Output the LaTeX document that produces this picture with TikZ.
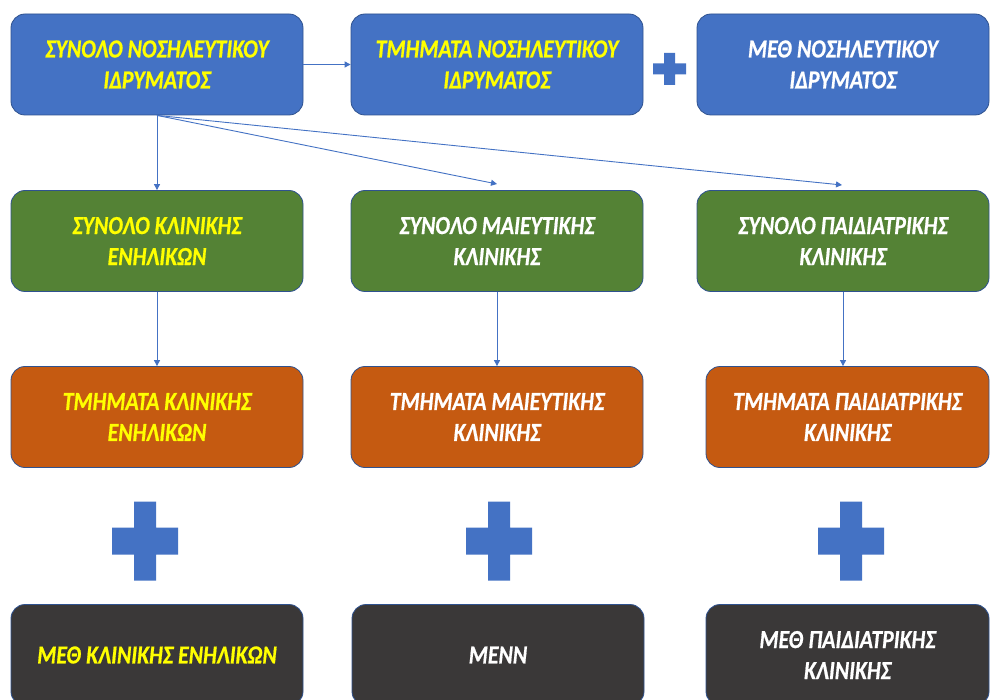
\documentclass[tikz,border=0pt]{standalone}
\usepackage{fontspec}
\setmainfont{Carlito}
\newfontfamily\boxfont[FakeStretch=0.84,FakeBold=0.6]{Carlito}
\usetikzlibrary{arrows.meta}
\definecolor{cblue}{HTML}{4472C4}
\definecolor{cgreen}{HTML}{548235}
\definecolor{corange}{HTML}{C55A11}
\definecolor{cdark}{HTML}{3A3838}
\definecolor{cedge}{HTML}{2F528F}
\definecolor{cyellow}{HTML}{FFFF00}
\begin{document}
\begin{tikzpicture}[x=1pt,y=-1pt,
  box/.style={rectangle, rounded corners=14pt, draw=cedge, line width=0.8pt,
    minimum width=292pt, minimum height=101pt, align=center, inner sep=0pt,
    font=\boxfont\bfseries\itshape\fontsize{26}{31}\selectfont},
  narrow/.style={minimum width=283pt},
  bluebox/.style={box, fill=cblue},
  greenbox/.style={box, fill=cgreen},
  orangebox/.style={box, fill=corange},
  darkbox/.style={box, fill=cdark},
  yel/.style={text=cyellow},
  wht/.style={text=white},
  conn/.style={draw=cblue, line width=0.9pt, -{Triangle[length=6pt,width=6pt]}},
  bigplus/.pic={\fill[cblue] (-11,-39.5) -- (11,-39.5) -- (11,-13.5) -- (33,-13.5) -- (33,13.5) -- (11,13.5) -- (11,39.5) -- (-11,39.5) -- (-11,13.5) -- (-33,13.5) -- (-33,-13.5) -- (-11,-13.5) -- cycle;},
  smallplus/.pic={\fill[cblue] (-5.5,-16) -- (5.5,-16) -- (5.5,-5.5) -- (16.5,-5.5) -- (16.5,5.5) -- (5.5,5.5) -- (5.5,16) -- (-5.5,16) -- (-5.5,5.5) -- (-16.5,5.5) -- (-16.5,-5.5) -- (-5.5,-5.5) -- cycle;}
]
\useasboundingbox (0,0) rectangle (990,700);
\clip (0,0) rectangle (990,700);
\fill[white] (0,0) rectangle (990,700);

% row 1
\node[bluebox, yel] (A) at (157,64.5) {ΣΥΝΟΛΟ ΝΟΣΗΛΕΥΤΙΚΟΥ\\ΙΔΡΥΜΑΤΟΣ};
\node[bluebox, yel] (B) at (497,64.5) {ΤΜΗΜΑΤΑ ΝΟΣΗΛΕΥΤΙΚΟΥ\\ΙΔΡΥΜΑΤΟΣ};
\node[bluebox, wht] (C) at (843,64.5) {ΜΕΘ ΝΟΣΗΛΕΥΤΙΚΟΥ\\ΙΔΡΥΜΑΤΟΣ};
\pic at (669.5,69) {smallplus};

% row 2
\node[greenbox, yel] (A2) at (157,241) {ΣΥΝΟΛΟ ΚΛΙΝΙΚΗΣ\\ΕΝΗΛΙΚΩΝ};
\node[greenbox, wht] (B2) at (497,241) {ΣΥΝΟΛΟ ΜΑΙΕΥΤΙΚΗΣ\\ΚΛΙΝΙΚΗΣ};
\node[greenbox, wht] (C2) at (843,241) {ΣΥΝΟΛΟ ΠΑΙΔΙΑΤΡΙΚΗΣ\\ΚΛΙΝΙΚΗΣ};

% row 3
\node[orangebox, yel] (A3) at (157,417) {ΤΜΗΜΑΤΑ ΚΛΙΝΙΚΗΣ\\ΕΝΗΛΙΚΩΝ};
\node[orangebox, wht] (B3) at (497,417) {ΤΜΗΜΑΤΑ ΜΑΙΕΥΤΙΚΗΣ\\ΚΛΙΝΙΚΗΣ};
\node[orangebox, wht, narrow] (C3) at (847.5,417) {ΤΜΗΜΑΤΑ ΠΑΙΔΙΑΤΡΙΚΗΣ\\ΚΛΙΝΙΚΗΣ};

% pluses
\pic at (145,541) {bigplus};
\pic at (499,541) {bigplus};
\pic at (851,541) {bigplus};

% row 5
\node[darkbox, yel] (A5) at (157,655) {ΜΕΘ ΚΛΙΝΙΚΗΣ ΕΝΗΛΙΚΩΝ};
\node[darkbox, wht] (B5) at (498,655) {ΜΕΝΝ};
\node[darkbox, wht, narrow] (C5) at (847.5,655) {ΜΕΘ ΠΑΙΔΙΑΤΡΙΚΗΣ\\ΚΛΙΝΙΚΗΣ};

% connectors
\coordinate (tB) at (497,184);
\coordinate (tC) at (842,185);
\draw[conn] (A.east) -- (B.west);
\draw[conn] (A.south) -- (A2.north);
\draw[conn] (A.south) -- (tB);
\draw[conn] (A.south) -- (tC);
\draw[conn] (A2.south) -- (A3.north);
\draw[conn] (B2.south) -- (B3.north);
\draw[conn] (C2.south) -- (C2.south |- C3.north);
\end{tikzpicture}
\end{document}
